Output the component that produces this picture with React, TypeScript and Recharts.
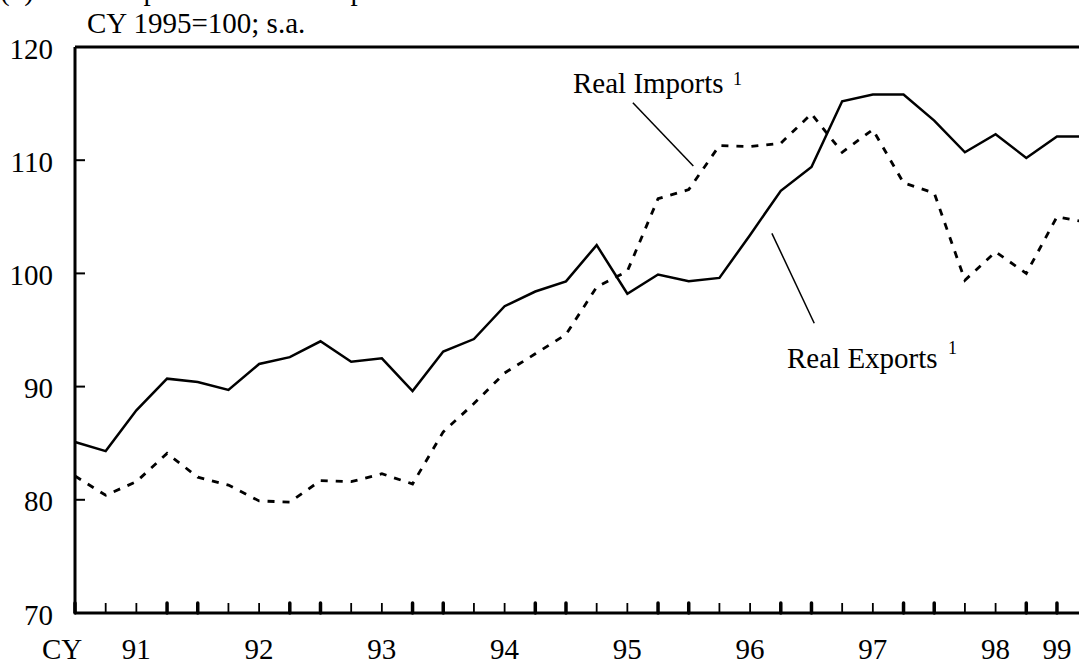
import React from "react";
import { LineChart, Line, XAxis, YAxis, ReferenceLine } from "recharts";

// quarterly index, CY 1995 = 100, seasonally adjusted
const QUARTER_IDX = [
  0, 1, 2, 3, 4, 5, 6, 7, 8, 9, 10, 11, 12, 13, 14, 15, 16,
  17, 18, 19, 20, 21, 22, 23, 24, 25, 26, 27, 28, 29, 30, 31, 32, 33,
];
const REAL_EXPORTS = [
  85.1, 84.3, 87.9, 90.7, 90.4, 89.7, 92.0, 92.6, 94.0, 92.2, 92.5, 89.6,
  93.1, 94.2, 97.1, 98.4, 99.3, 102.5, 98.2, 99.9, 99.3, 99.6, 103.4, 107.3,
  109.4, 115.2, 115.8, 115.8, 113.5, 110.7, 112.3, 110.2, 112.1, 112.1,
];
const REAL_IMPORTS = [
  82.1, 80.4, 81.6, 84.1, 82.0, 81.3, 79.9, 79.8, 81.7, 81.6, 82.3, 81.4,
  86.0, 88.5, 91.2, 92.9, 94.6, 98.8, 100.2, 106.6, 107.4, 111.3, 111.2, 111.5,
  114.1, 110.7, 112.7, 108.0, 107.1, 99.4, 101.9, 100.0, 105.0, 104.5,
];
// year labels sit under these quarter ticks
const YEAR_TICKS = [2, 6, 10, 14, 18, 22, 26, 30, 32];
const YEAR_LABELS = ["91", "92", "93", "94", "95", "96", "97", "98", "99"];
const Y_TICKS = [70, 80, 90, 100, 110, 120];

const rows = QUARTER_IDX.map((i, k) => ({
  i,
  exports: REAL_EXPORTS[k],
  imports: REAL_IMPORTS[k],
}));

const FONT = "'Liberation Serif', 'Times New Roman', serif";
const FS = 29;

function XTick(props: any) {
  const { x, y, payload } = props;
  const i = payload.value;
  const thick = i % 4 === 3 || i % 4 === 0;
  const k = YEAR_TICKS.indexOf(i);
  return (
    <g>
      <line
        x1={x}
        x2={x}
        y1={y}
        y2={y - 10}
        stroke="#000"
        strokeWidth={thick ? 3.5 : 1.8}
        strokeLinecap={thick ? "round" : "butt"}
      />
      {k >= 0 && (
        <text x={x} y={y + 46} textAnchor="middle" fontFamily={FONT} fontSize={FS} fill="#000">
          {YEAR_LABELS[k]}
        </text>
      )}
    </g>
  );
}

function YTick(props: any) {
  const { x, y, payload } = props;
  const v = payload.value;
  return (
    <g>
      {v > 70 && v < 120 && (
        <line x1={x} x2={x + 10} y1={y} y2={y} stroke="#000" strokeWidth={2} />
      )}
      <text x={x - 22} y={y + 11.5} textAnchor="end" fontFamily={FONT} fontSize={FS} fill="#000">
        {v}
      </text>
    </g>
  );
}

export default function App() {
  return (
    <div
      style={{
        position: "absolute",
        left: 0,
        top: 0,
        width: 1079,
        height: 666,
        overflow: "hidden",
        background: "#fff",
      }}
    >
      <LineChart
        width={1103}
        height={666}
        data={rows}
        margin={{ top: 47, right: 0, bottom: 0, left: 0 }}
      >
        <XAxis
          dataKey="i"
          type="number"
          domain={[0, 33.5]}
          ticks={QUARTER_IDX}
          interval={0}
          height={53}
          tickSize={0}
          tickMargin={0}
          tickLine={false}
          axisLine={{ stroke: "#000", strokeWidth: 3 }}
          tick={<XTick />}
        />
        <YAxis
          type="number"
          domain={[70, 120]}
          ticks={Y_TICKS}
          interval={0}
          width={75}
          tickSize={0}
          tickMargin={0}
          tickLine={false}
          axisLine={{ stroke: "#000", strokeWidth: 3 }}
          tick={<YTick />}
        />
        <ReferenceLine y={120} stroke="#000" strokeWidth={3} />
        {/* leader lines to the labels */}
        <ReferenceLine
          segment={[{ x: 18.18, y: 115.07 }, { x: 20.15, y: 109.48 }]}
          stroke="#000"
          strokeWidth={1.5}
        />
        <ReferenceLine
          segment={[{ x: 22.71, y: 103.54 }, { x: 24.09, y: 95.6 }]}
          stroke="#000"
          strokeWidth={1.5}
        />
        <Line
          type="linear"
          dataKey="exports"
          stroke="#000"
          strokeWidth={2.5}
          dot={false}
          isAnimationActive={false}
        />
        <Line
          type="linear"
          dataKey="imports"
          stroke="#000"
          strokeWidth={2.8}
          strokeDasharray="7 8"
          dot={false}
          isAnimationActive={false}
        />
      </LineChart>

      <svg
        width={1079}
        height={666}
        style={{ position: "absolute", left: 0, top: 0, pointerEvents: "none" }}
        fontFamily={FONT}
        fill="#000"
      >
        {/* title line, cut off at the top like in the source */}
        <text x={0} y={0} fontSize={FS}>(b)</text>
        <text x={51} y={0} fontSize={FS}>Real Exports and Real Imports</text>
        <text x={87} y={33} fontSize={FS}>CY 1995=100; s.a.</text>
        <text x={573} y={93} fontSize={FS}>Real Imports</text>
        <text x={733} y={85} fontSize={18}>1</text>
        <text x={787} y={368} fontSize={FS}>Real Exports</text>
        <text x={948} y={354} fontSize={18}>1</text>
        <text x={42} y={659} fontSize={FS}>CY</text>
      </svg>
    </div>
  );
}
